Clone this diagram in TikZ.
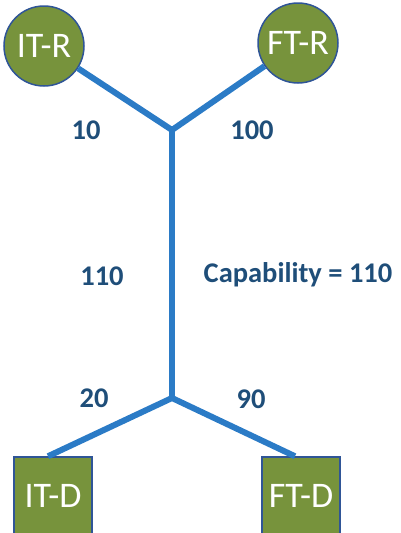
\documentclass[tikz,border=0pt]{standalone}
\usepackage{fontspec}
\setmainfont{Carlito}
\definecolor{olive}{RGB}{119,147,60}
\definecolor{rim}{RGB}{47,85,151}
\definecolor{pipe}{RGB}{43,123,198}
\definecolor{navy}{RGB}{31,78,121}
\tikzset{
  rnode/.style={circle,draw=rim,line width=1.5pt,fill=olive,minimum size=80pt,inner sep=0pt,
    text=white,font=\fontsize{36}{40}\selectfont},
  dnode/.style={rectangle,draw=rim,line width=1.5pt,fill=olive,minimum size=78pt,inner sep=0pt,
    text=white,font=\fontsize{36}{40}\selectfont},
  link/.style={pipe,line width=6pt,line join=round},
  lbl/.style={navy,font=\bfseries\fontsize{28.5}{31}\selectfont,inner sep=0pt}
}
\begin{document}
\begin{tikzpicture}[x=1pt,y=-1pt]
\useasboundingbox (0,0) rectangle (400,533);
\coordinate (jt) at (172,130);
\coordinate (jb) at (172,398);
\draw[link] (jt) -- (jb);
\node[rnode] (itr) at (44,46) {IT-R};
\node[rnode] (ftr) at (298,43) {FT-R};
\node[dnode] (itd) at (53,496) {IT-D};
\node[dnode] (ftd) at (301,496) {FT-D};
\draw[link] (itr) -- (jt) -- (ftr);
\draw[link] ([xshift=-5pt]itd.north) -- (jb) -- ([xshift=-6pt]ftd.north);
% flow values
\node[lbl] (n10) at (86,130) {10};
\node[lbl] (n100) at (252,130) {100};
\node[lbl] (n110) at (102,276) {110};
\node[lbl] (cap) at (298,275) {Capability = 110};
\node[lbl] (n20) at (94,398) {20};
\node[lbl] (n90) at (251,399) {90};
\end{tikzpicture}
\end{document}
